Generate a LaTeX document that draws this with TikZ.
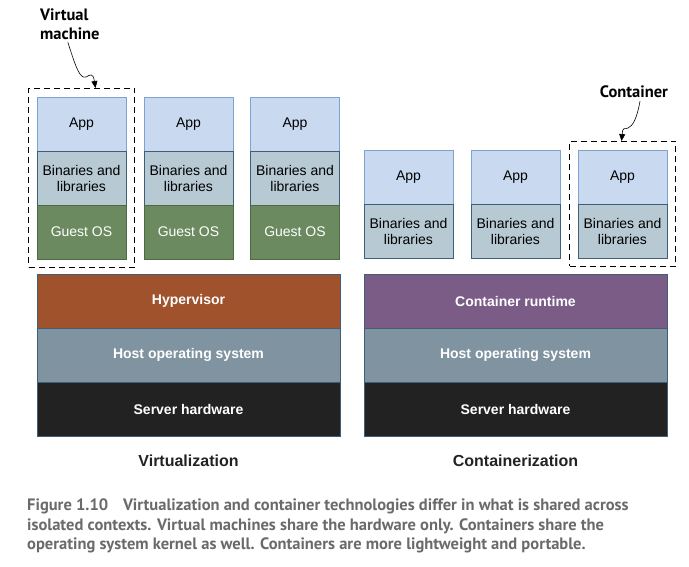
\documentclass[tikz,border=0pt]{standalone}
\usepackage{fontspec}
\setmainfont{Liberation Sans}
\newfontfamily\calloutfont{PT Sans}
\usepackage{tikz}
\usetikzlibrary{arrows.meta, positioning, fit}
\definecolor{appfill}{HTML}{C9DAF0}
\definecolor{appline}{HTML}{7FA3D1}
\definecolor{binfill}{HTML}{B7C9D3}
\definecolor{binline}{HTML}{3F5F78}
\definecolor{guestfill}{HTML}{6B8A5F}
\definecolor{guestline}{HTML}{4E6A45}
\definecolor{hyperfill}{HTML}{A0522D}
\definecolor{hostfill}{HTML}{7F94A0}
\definecolor{serverfill}{HTML}{222222}
\definecolor{runtimefill}{HTML}{7A5C87}
\definecolor{captiongray}{HTML}{6A6A6A}
\tikzset{%
	blk/.style={draw, rectangle, minimum width=89pt, minimum height=54pt,%
		inner sep=0pt, outer sep=0pt, align=center, font=\fontsize{14}{16}\selectfont, line width=0.6pt},
	app/.style={blk, fill=appfill, draw=appline},
	bins/.style={blk, fill=binfill, draw=binline},
	guest/.style={blk, fill=guestfill, draw=guestline, text=white},
	layer/.style={draw=binline, rectangle, minimum width=303pt, minimum height=54pt,%
		inner sep=0pt, outer sep=0pt, text=white, font=\fontsize{14}{16}\selectfont\bfseries, line width=0.6pt},
	boundary/.style={draw, dashed, dash pattern=on 6pt off 4pt, line width=0.9pt, inner sep=8.5pt},
	callout/.style={-{Triangle[length=7pt, width=6pt]}, line width=0.6pt},
	calloutlabel/.style={font=\calloutfont\fontsize{16.5}{19}\selectfont\bfseries, align=left, inner sep=0pt},
	heading/.style={font=\fontsize{16}{18}\selectfont\bfseries, text=serverfill},
	caption/.style={font=\calloutfont\fontsize{16.5}{19.5}\selectfont\bfseries, text=captiongray,%
		align=left, inner sep=0pt, anchor=north west}
}

\begin{document}
\begin{tikzpicture}[x=1pt, y=-1pt]
	\useasboundingbox (0,0) rectangle (689,567);

	% virtualization side
	\node[app]                (app1)  at (81.5,124) {App};
	\node[bins, below=0pt of app1]  (bin1)  {Binaries and\\libraries};
	\node[guest, below=0pt of bin1] (os1)   {Guest OS};
	\node[app]                (app2)  at (188.5,124) {App};
	\node[bins, below=0pt of app2]  (bin2)  {Binaries and\\libraries};
	\node[guest, below=0pt of bin2] (os2)   {Guest OS};
	\node[app]                (app3)  at (295,124) {App};
	\node[bins, below=0pt of app3]  (bin3)  {Binaries and\\libraries};
	\node[guest, below=0pt of bin3] (os3)   {Guest OS};

	\node[layer, fill=hyperfill]  (hyper)   at (188.5,301) {Hypervisor};
	\node[layer, fill=hostfill, below=0pt of hyper]  (vmhost)   {Host operating system};
	\node[layer, fill=serverfill, below=0pt of vmhost] (vmserver) {Server hardware};
	\node[heading] (virt) at (188.5,461) {Virtualization};

	% containerization side
	\node[app]                (capp1) at (408.5,177) {App};
	\node[bins, below=0pt of capp1] (cbin1) {Binaries and\\libraries};
	\node[app]                (capp2) at (515.5,177) {App};
	\node[bins, below=0pt of capp2] (cbin2) {Binaries and\\libraries};
	\node[app]                (capp3) at (622.5,177) {App};
	\node[bins, below=0pt of capp3] (cbin3) {Binaries and\\libraries};

	\node[layer, fill=runtimefill] (runtime) at (515.5,301) {Container runtime};
	\node[layer, fill=hostfill, below=0pt of runtime] (cthost)   {Host operating system};
	\node[layer, fill=serverfill, below=0pt of cthost] (ctserver) {Server hardware};
	\node[heading] (contz) at (515.5,461) {Containerization};

	% callouts
	\node[boundary, fit=(app1)(os1)]   (vm)   {};
	\node[boundary, fit=(capp3)(cbin3)] (ctr) {};
	\node[calloutlabel, anchor=north west] (vmlbl) at (40,9) {Virtual\\machine};
	\node[calloutlabel] (ctrlbl) at (634,92) {Container};

	\draw[callout] (vmlbl.south) ++(-2,2) .. controls (76,68) and (80,79) .. (86,77)
		.. controls (90,75) and (93,72) .. ([xshift=14pt]vm.north);
	\draw[callout] (ctrlbl.south) ++(6,3) .. controls (637,118) and (633,126) .. (628,128)
		.. controls (624,130) and (623,126) .. ([xshift=-1pt]ctr.north);

	% caption
	\node[caption] (cap) at (27,499) {Figure 1.10\hspace{0.9em}Virtualization and container technologies differ in what is shared across\\
		isolated contexts. Virtual machines share the hardware only. Containers share the\\
		operating system kernel as well. Containers are more lightweight and portable.};
\end{tikzpicture}
\end{document}
